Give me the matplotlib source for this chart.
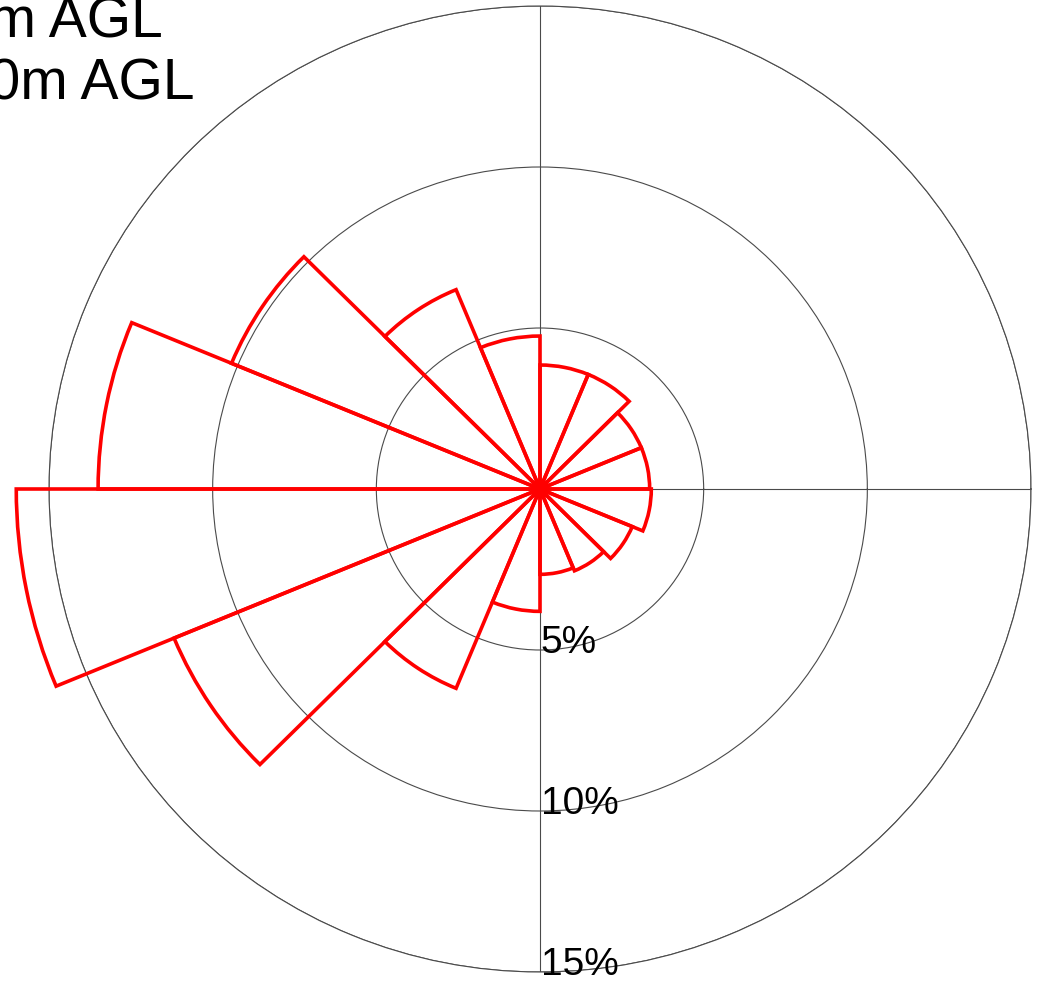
import numpy as np
import matplotlib
matplotlib.use("Agg")
import matplotlib.pyplot as plt
from matplotlib.transforms import offset_copy

plt.rcParams['font.family'] = ['Liberation Sans', 'DejaVu Sans']

# Direction sectors: 16 bins of 22.5 degrees, counter-clockwise from east
sector_start_deg = [0, 22.5, 45, 67.5, 90, 112.5, 135, 157.5,
                    180, 202.5, 225, 247.5, 270, 292.5, 315, 337.5]
frequency_pct = [3.35, 3.35, 3.85, 3.85, 4.75, 6.7, 10.2, 13.5,
                 16.0, 12.1, 6.7, 3.8, 2.65, 2.75, 3.05, 3.4]
ring_values = [5, 10, 15]
ring_labels = ["5%", "10%", "15%"]
title_lines = ["10m AGL", "100m AGL"]

W, H = 1038, 981
fig = plt.figure(figsize=(W / 100, H / 100), dpi=100)
ax = fig.add_axes([49 / W, 9 / H, 982 / W, 966 / H], projection='polar')
ax.set_aspect('auto')

grid_color = '#4a4a4a'
theta = np.deg2rad(sector_start_deg)
width = np.deg2rad(22.5)
bars = ax.bar(theta, frequency_pct, width=width, align='edge',
              facecolor='none', edgecolor='#ff0000', linewidth=2.6,
              zorder=3)
for b in bars:
    b.set_clip_on(False)

ax.set_ylim(0, 15)
ax.set_rgrids(ring_values, labels=[""] * len(ring_values))
ax.set_thetagrids([0, 90, 180, 270], labels=[""] * 4)
ax.grid(True, color=grid_color, linewidth=0.8)
ax.spines['polar'].set_color(grid_color)
ax.spines['polar'].set_linewidth(0.8)
ax.set_axisbelow(True)
ax.tick_params(length=0)

# ring labels along the southern radial line
lab_tr = offset_copy(ax.transData, fig=fig, x=0.5, y=-2, units='points')
for r, lab in zip(ring_values, ring_labels):
    ax.text(np.deg2rad(270), r, lab, transform=lab_tr, ha='left',
            va='baseline', fontsize=28, color='black', zorder=5)

# series labels in the upper-left corner
x0 = -75 / W
fig.text(x0, 1 - 37 / H, title_lines[0], ha='left', va='baseline',
         fontsize=41, color='black')
fig.text(x0, 1 - 100 / H, title_lines[1], ha='left', va='baseline',
         fontsize=41, color='black')

fig.savefig('out.png', dpi=100)
